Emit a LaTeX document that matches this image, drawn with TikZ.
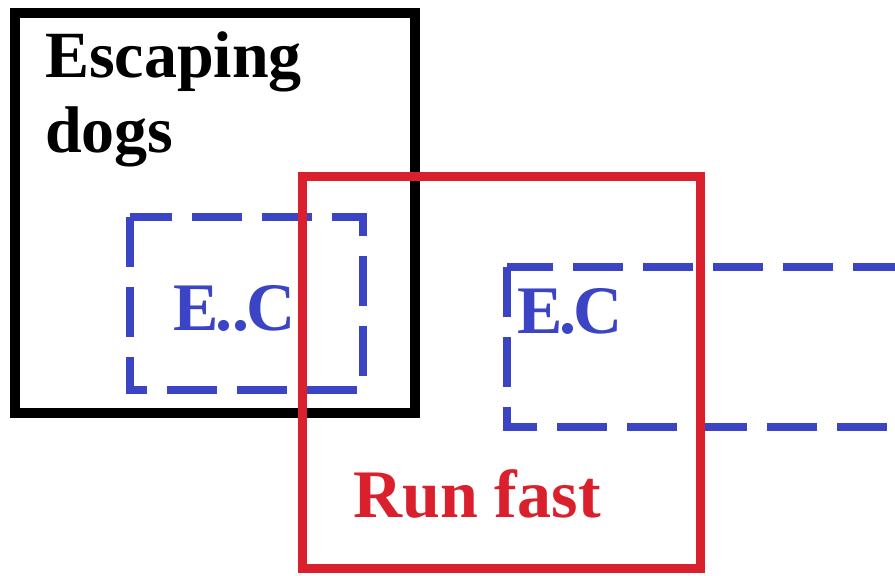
\documentclass[tikz,border=0pt]{standalone}
\usepackage{fontspec}
\setmainfont{Liberation Serif}
\definecolor{DogBlack}{RGB}{0, 0, 0}
\definecolor{FastRed}{RGB}{218, 32, 44}
\definecolor{ECBlue}{RGB}{58, 68, 196}
\usetikzlibrary{positioning}

\begin{document}
\begin{tikzpicture}[x=1pt, y=-1pt,
    every node/.style={inner sep=0pt, anchor=base west, font=\bfseries\fontsize{66}{75}\selectfont},
    escbox/.style={draw=DogBlack, line width=10pt, line join=miter},
    runbox/.style={draw=FastRed, line width=9pt, line join=miter},
    ecbox/.style={draw=ECBlue, line width=8pt, dash pattern=on 50pt off 20pt},
    bluetext/.style={text=ECBlue, font=\bfseries\fontsize{68}{75}\selectfont},
    redtext/.style={text=FastRed, font=\bfseries\fontsize{68}{75}\selectfont}]
        \useasboundingbox (0,0) rectangle (895,576);
        \clip (0,0) rectangle (895,576);

        % Escaping dogs
        \draw[escbox] (15,13) rectangle (415,413);
        \node (escaping) at (45,77) {Escaping};
        \node (dogs) at (45,152) {dogs};

        % E.C boxes
        \draw[ecbox] (130,217) rectangle (363,390);
        \node[bluetext] (ecleft) at (173,330) {E\kern-3pt.\kern0pt.\kern-3pt C};
        \draw[ecbox] (507,267) rectangle (930,427);
        \node[bluetext] (ecright) at (517,333) {E\kern-3pt.\kern-3pt C};

        % Run fast
        \draw[runbox] (302,176) rectangle (700,568);
        \node[redtext] (runfast) at (353,517) {Run fast};
    \end{tikzpicture}
\end{document}
